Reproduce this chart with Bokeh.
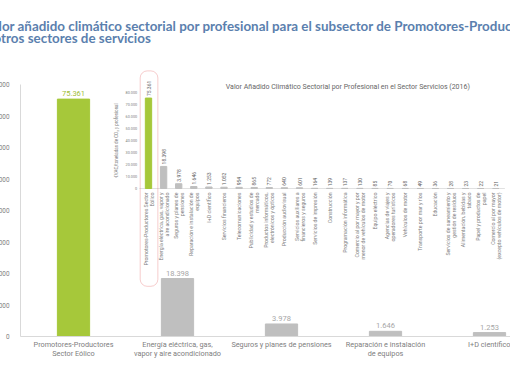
import math
from bokeh.plotting import figure
from bokeh.models import Range1d, FixedTicker, Title, BoxAnnotation, ColumnDataSource
from bokeh.embed import file_html
from bokeh.resources import INLINE
from bokeh.core.properties import value

# ---------------- data ----------------
titulo_1 = "Valor añadido climático sectorial por profesional para el subsector de Promotores-Productores del Sector Eólico"
titulo_2 = "y otros sectores de servicios"
titulo_inset = "Valor Añadido Climático Sectorial por Profesional en el Sector Servicios (2016)"
eje_y_inset = "€VAC/toneladas de CO₂ y profesional"

sectores = [
    "Promotores-Productores Sector\nEólico",
    "Energía eléctrica, gas, vapor y\naire acondicionado",
    "Seguros y planes de\npensiones",
    "Reparación e instalación de\nequipos",
    "I+D científico",
    "Servicios financieros",
    "Telecomunicaciones",
    "Publicidad y estudios de\nmercado",
    "Productos informáticos,\nelectrónicos y ópticos",
    "Producción audiovisual",
    "Servicios auxiliares a\nfinancieros y seguros",
    "Servicios de impresión",
    "Construcción",
    "Programación informática",
    "Comercio al por mayor y por\nmenor de vehículos de motor",
    "Equipo eléctrico",
    "Agencias de viajes y\noperadores turísticos",
    "Vehículos de motor",
    "Transporte por mar y ríos",
    "Educación",
    "Servicios de saneamiento y\ngestión de residuos",
    "Alimentación, bebidas y\ntabaco",
    "Papel y productos de\npapel",
    "Comercio al por mayor\n(excepto vehículos de motor)",
]
valores = [75361, 18398, 3978, 1646, 1253, 1052, 954, 865, 772, 640, 601,
           164, 139, 137, 130, 85, 70, 68, 49, 36, 28, 23, 22, 21]
etiquetas_valor = ["75.361", "18.398", "3.978", "1.646", "1.253", "1.052", "954",
                   "865", "772", "640", "601", "164", "139", "137", "130", "85",
                   "70", "68", "49", "36", "28", "23", "22", "21"]

sectores_principal = [
    "Promotores-Productores\nSector Eólico",
    "Energía eléctrica, gas,\nvapor y aire acondicionado",
    "Seguros y planes de pensiones",
    "Reparación e instalación\nde equipos",
    "I+D científico",
]
n_principal = len(sectores_principal)

ticks_y = [0, 10000, 20000, 30000, 40000, 50000, 60000, 70000, 80000]
ticks_y_etiquetas = ["0", "10.000", "20.000", "30.000", "40.000", "50.000",
                     "60.000", "70.000", "80.000"]

# ---------------- colours / layout ----------------
VERDE = "#a6c83a"
VERDE_TXT = "#9dbd34"
GRIS = "#bfbfbf"
GRIS_TXT = "#a6a6a6"
EJE = "#d9d9d9"
TXT = "#808080"
AZUL = "#5b7fae"
FONT = "Roboto"

OFF_X = 20          # canvas starts 20px left of the window
W, H = 530, 382
# main frame in window pixels
F_L, F_R, F_T, F_B = 20, 510, 50, 336
PX_10K = 252 / 80000          # main: px per unit
X0_PX, DX_PX = 73, 104        # main category centre & spacing
# inset geometry in window pixels
IX0, IDX = 148, 15.1
IY0, IPX = 188, 96 / 80000

x_start = (F_L - X0_PX) / DX_PX
x_end = x_start + (F_R - F_L) / DX_PX
y_end = (F_B - F_T) / PX_10K

p = figure(width=W, height=H, output_backend="svg", toolbar_location=None,
           x_range=Range1d(x_start, x_end), y_range=Range1d(0, y_end),
           min_border_left=F_L + OFF_X, min_border_right=0,
           min_border_top=F_T, min_border_bottom=H - F_B)
p.margin = (0, 0, 0, -OFF_X)
p.outline_line_color = None
p.xgrid.visible = False
p.ygrid.visible = False
p.background_fill_color = "white"
p.border_fill_color = "white"

# inset ranges mapped onto the same frame
ix_start = (F_L - IX0) / IDX
ix_end = (F_R - IX0) / IDX
iy_start = (IY0 - F_B) / IPX
iy_end = (IY0 - F_T) / IPX
p.extra_x_ranges = {"ix": Range1d(ix_start, ix_end)}
p.extra_y_ranges = {"iy": Range1d(iy_start, iy_end)}

# ---------------- main axes ----------------
p.yaxis.ticker = FixedTicker(ticks=ticks_y)
p.yaxis.major_label_overrides = dict(zip(ticks_y, ticks_y_etiquetas))
p.yaxis.bounds = (ticks_y[0], ticks_y[-1])
p.yaxis.axis_line_color = EJE
p.yaxis.major_tick_line_color = None
p.yaxis.minor_tick_line_color = None
p.yaxis.major_label_text_color = TXT
p.yaxis.major_label_text_font = FONT
p.yaxis.major_label_text_font_size = "6.4px"
p.yaxis.major_label_standoff = 5

idx_p = list(range(n_principal))
p.xaxis.ticker = FixedTicker(ticks=idx_p)
p.xaxis.major_label_overrides = dict(zip(idx_p, sectores_principal))
p.xaxis.axis_line_color = EJE
p.xaxis.major_tick_line_color = None
p.xaxis.minor_tick_line_color = None
p.xaxis.major_label_text_color = TXT
p.xaxis.major_label_text_font = FONT
p.xaxis.major_label_text_font_size = "7.3px"
p.xaxis.major_label_text_line_height = 1.05
p.xaxis.major_label_standoff = -3

# ---------------- main bars ----------------
colores = [VERDE] + [GRIS] * (len(valores) - 1)
colores_txt = [VERDE_TXT] + [GRIS_TXT] * (len(valores) - 1)
src_main = ColumnDataSource(dict(x=idx_p, top=valores[:n_principal],
                                 color=colores[:n_principal],
                                 tcolor=colores_txt[:n_principal],
                                 lab=etiquetas_valor[:n_principal]))
p.vbar(x="x", top="top", width=0.31, color="color", source=src_main)
p.text(x="x", y="top", text="lab", source=src_main, text_color="tcolor",
       text_font=value(FONT), text_font_size="7.5px", text_align="center",
       text_baseline="bottom", y_offset=-3)

# ---------------- inset ----------------
idx_i = list(range(len(valores)))
src_in = ColumnDataSource(dict(x=idx_i, top=valores, color=colores,
                               lab=etiquetas_valor, cat=sectores))
p.segment(x0=[-0.6], y0=[0], x1=[len(valores) - 0.4], y1=[0], line_color=EJE,
          line_width=0.8, x_range_name="ix", y_range_name="iy")
p.vbar(x="x", top="top", width=0.42, color="color", source=src_in,
       x_range_name="ix", y_range_name="iy")
p.text(x="x", y="top", text="lab", source=src_in, angle=math.pi / 2,
       text_color="#595959", text_font=value(FONT), text_font_size="5px",
       text_align="left", text_baseline="middle", y_offset=-2,
       x_range_name="ix", y_range_name="iy")
p.text(x="x", y=0, text="cat", source=src_in, angle=math.pi / 2,
       text_color=TXT, text_font=value(FONT), text_font_size="5.2px",
       text_align="right", text_baseline="middle", y_offset=4,
       text_line_height=1.0, x_range_name="ix", y_range_name="iy")
p.text(x=-0.75, y=ticks_y, text=ticks_y_etiquetas, text_color=TXT,
       text_font=value(FONT), text_font_size="3.8px", text_align="right",
       text_baseline="middle", x_range_name="ix", y_range_name="iy")
p.text(x=[-2.1], y=[40000], text=[eje_y_inset], angle=math.pi / 2,
       text_color=TXT, text_font=value(FONT), text_font_size="4.5px",
       text_align="center", text_baseline="middle",
       x_range_name="ix", y_range_name="iy")
# inset title, centred over the inset plot area
p.text(x=[13.2], y=[85000], text=[titulo_inset], text_color="#666666",
       text_font=value(FONT), text_font_size="7px", text_align="center",
       text_baseline="middle", x_range_name="ix", y_range_name="iy")

p.add_layout(BoxAnnotation(left=-0.55, right=0.62, top=98000, bottom=-81500,
                           x_range_name="ix", y_range_name="iy",
                           fill_alpha=0, line_color="#e05a5a", line_width=1,
                           border_radius=7))

# ---------------- page title (two lines, left part cropped as in source) ----
p.add_layout(Title(text=titulo_1 + "\n" + titulo_2, align="left",
                   offset=-17 - F_L, text_color=AZUL, text_font="Lato",
                   text_font_size="13.4px", text_font_style="bold",
                   text_line_height=0.78, standoff=9), "above")

open("out.html", "w").write(file_html(p, INLINE))
